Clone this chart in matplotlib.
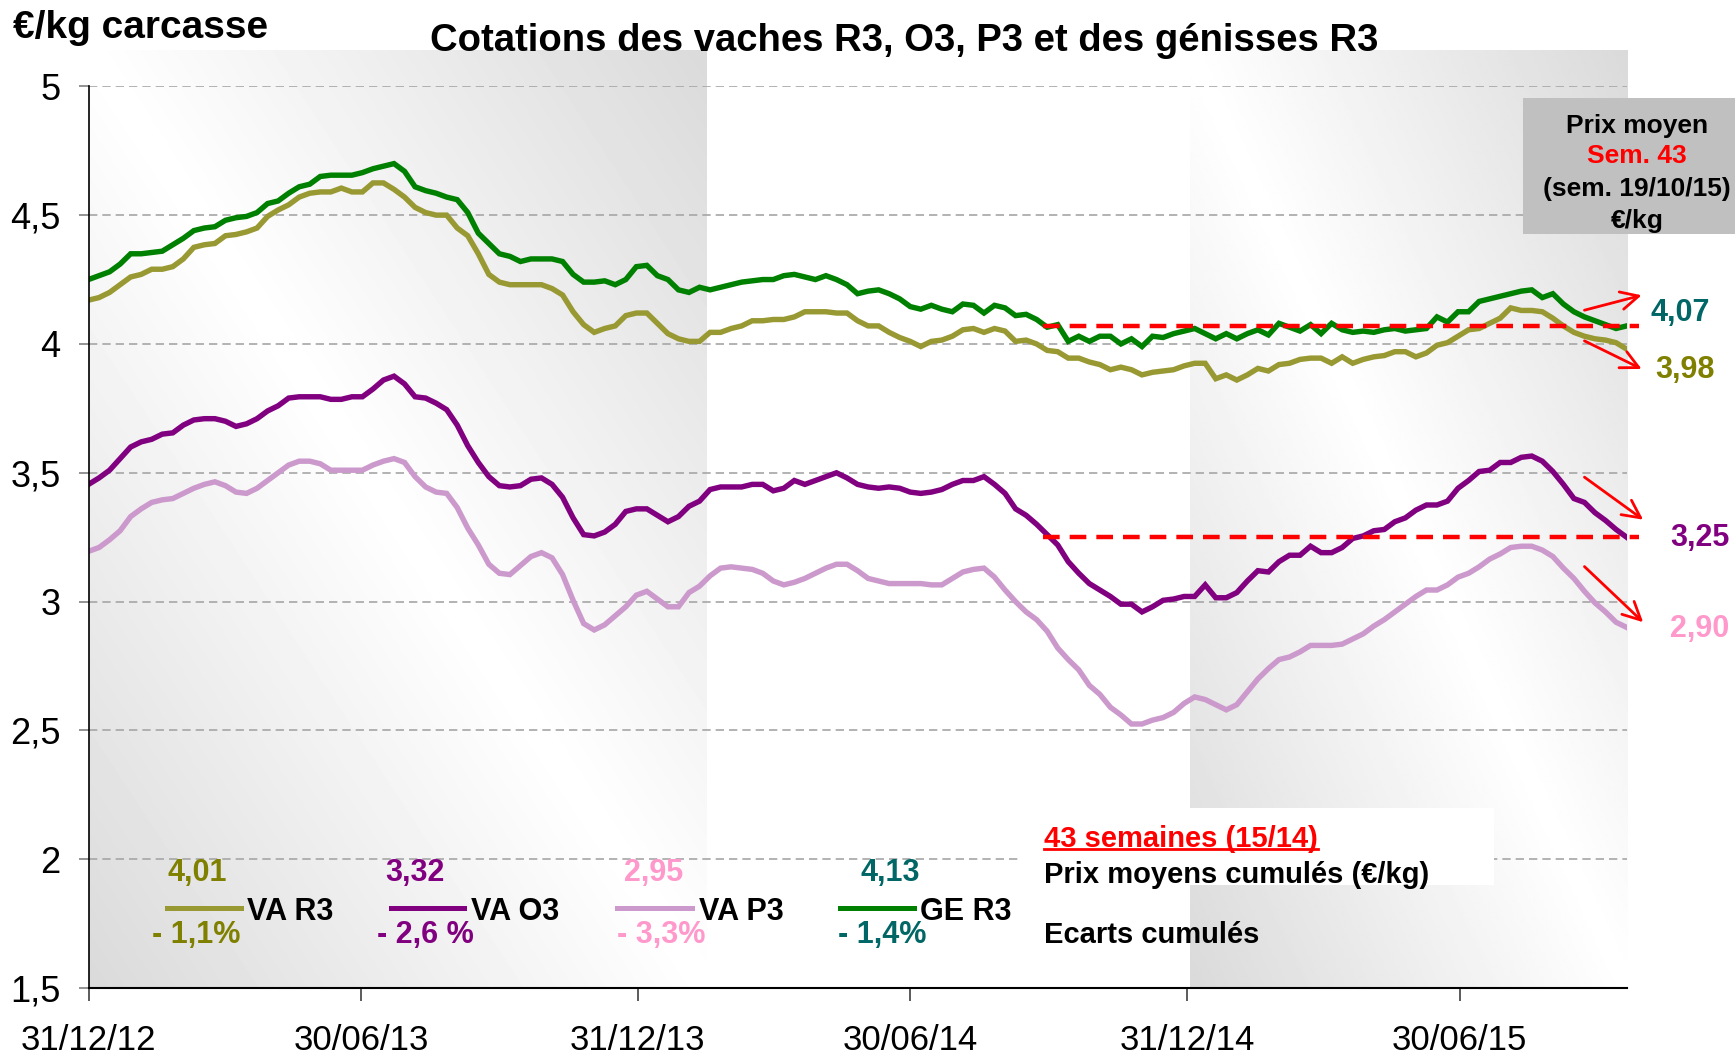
import numpy as np
import pandas as pd
import matplotlib
matplotlib.use('Agg')
import matplotlib.pyplot as plt
import matplotlib.dates as mdates
from matplotlib.patches import Rectangle
from matplotlib.lines import Line2D

plt.rcParams['font.family'] = ['Liberation Sans', 'DejaVu Sans']

# weekly quotations, week 1/2013 (31/12/12) to week 43/2015 (19/10/15)
dates = pd.date_range('2012-12-31', periods=147, freq='7D')

va_r3 = [4.17, 4.18, 4.20, 4.23, 4.26, 4.27, 4.29, 4.29, 4.30, 4.33,
         4.375, 4.385, 4.39, 4.42, 4.425, 4.435, 4.45, 4.495, 4.52, 4.54,
         4.57, 4.585, 4.59, 4.59, 4.605, 4.59, 4.59, 4.625, 4.625, 4.60,
         4.57, 4.53, 4.51, 4.50, 4.50, 4.45, 4.42, 4.35, 4.27, 4.24,
         4.23, 4.23, 4.23, 4.23, 4.215, 4.19, 4.125, 4.075, 4.045, 4.06,
         4.07, 4.11, 4.12, 4.12, 4.08, 4.04, 4.02, 4.01, 4.01, 4.045,
         4.045, 4.06, 4.07, 4.09, 4.09, 4.095, 4.095, 4.105, 4.125, 4.125,
         4.125, 4.12, 4.12, 4.09, 4.07, 4.07, 4.045, 4.025, 4.01, 3.99,
         4.01, 4.015, 4.03, 4.055, 4.06, 4.045, 4.06, 4.05, 4.01, 4.015,
         4.00, 3.975, 3.97, 3.945, 3.945, 3.93, 3.92, 3.90, 3.91, 3.90,
         3.88, 3.89, 3.895, 3.90, 3.915, 3.925, 3.925, 3.865, 3.88, 3.86,
         3.88, 3.905, 3.895, 3.92, 3.925, 3.94, 3.945, 3.945, 3.925, 3.95,
         3.925, 3.94, 3.95, 3.955, 3.97, 3.97, 3.95, 3.965, 3.995, 4.005,
         4.03, 4.055, 4.06, 4.08, 4.10, 4.14, 4.13, 4.13, 4.125, 4.10,
         4.07, 4.045, 4.03, 4.02, 4.015, 4.005, 3.98]

va_o3 = [3.455, 3.48, 3.51, 3.555, 3.60, 3.62, 3.63, 3.65, 3.655, 3.685,
         3.705, 3.71, 3.71, 3.70, 3.68, 3.69, 3.71, 3.74, 3.76, 3.79,
         3.795, 3.795, 3.795, 3.785, 3.785, 3.795, 3.795, 3.825, 3.86, 3.875,
         3.845, 3.795, 3.79, 3.77, 3.745, 3.685, 3.605, 3.54, 3.485, 3.45,
         3.445, 3.45, 3.475, 3.48, 3.455, 3.405, 3.325, 3.26, 3.255, 3.27,
         3.30, 3.35, 3.36, 3.36, 3.335, 3.31, 3.33, 3.37, 3.39, 3.435,
         3.445, 3.445, 3.445, 3.455, 3.455, 3.43, 3.44, 3.47, 3.455, 3.47,
         3.485, 3.50, 3.48, 3.455, 3.445, 3.44, 3.445, 3.44, 3.425, 3.42,
         3.425, 3.435, 3.455, 3.47, 3.47, 3.485, 3.455, 3.42, 3.36, 3.335,
         3.30, 3.26, 3.22, 3.155, 3.11, 3.07, 3.045, 3.02, 2.99, 2.99,
         2.96, 2.98, 3.005, 3.01, 3.02, 3.02, 3.065, 3.015, 3.015, 3.035,
         3.08, 3.12, 3.115, 3.155, 3.18, 3.18, 3.215, 3.19, 3.19, 3.21,
         3.245, 3.255, 3.275, 3.28, 3.31, 3.325, 3.355, 3.375, 3.375, 3.39,
         3.44, 3.47, 3.505, 3.51, 3.54, 3.54, 3.56, 3.565, 3.545, 3.505,
         3.455, 3.40, 3.385, 3.345, 3.315, 3.28, 3.25]

va_p3 = [3.195, 3.21, 3.24, 3.275, 3.33, 3.36, 3.385, 3.395, 3.40, 3.42,
         3.44, 3.455, 3.465, 3.45, 3.425, 3.42, 3.44, 3.47, 3.50, 3.53,
         3.545, 3.545, 3.535, 3.51, 3.51, 3.51, 3.51, 3.53, 3.545, 3.555,
         3.54, 3.485, 3.445, 3.425, 3.42, 3.365, 3.285, 3.22, 3.145, 3.11,
         3.105, 3.14, 3.175, 3.19, 3.17, 3.105, 3.005, 2.915, 2.89, 2.91,
         2.945, 2.98, 3.025, 3.04, 3.01, 2.98, 2.98, 3.035, 3.06, 3.10,
         3.13, 3.135, 3.13, 3.125, 3.11, 3.08, 3.065, 3.075, 3.09, 3.11,
         3.13, 3.145, 3.145, 3.12, 3.09, 3.08, 3.07, 3.07, 3.07, 3.07,
         3.065, 3.065, 3.09, 3.115, 3.125, 3.13, 3.095, 3.045, 3.00, 2.96,
         2.93, 2.885, 2.82, 2.775, 2.735, 2.675, 2.64, 2.59, 2.56, 2.525,
         2.525, 2.54, 2.55, 2.57, 2.605, 2.63, 2.62, 2.60, 2.58, 2.60,
         2.65, 2.70, 2.74, 2.775, 2.785, 2.805, 2.83, 2.83, 2.83, 2.835,
         2.855, 2.875, 2.905, 2.93, 2.96, 2.99, 3.02, 3.045, 3.045, 3.065,
         3.095, 3.11, 3.135, 3.165, 3.185, 3.21, 3.215, 3.215, 3.20, 3.175,
         3.13, 3.09, 3.04, 2.995, 2.96, 2.92, 2.90]

ge_r3 = [4.25, 4.265, 4.28, 4.31, 4.35, 4.35, 4.355, 4.36, 4.385, 4.41,
         4.44, 4.45, 4.455, 4.48, 4.49, 4.495, 4.51, 4.545, 4.555, 4.585,
         4.61, 4.62, 4.65, 4.655, 4.655, 4.655, 4.665, 4.68, 4.69, 4.70,
         4.67, 4.61, 4.595, 4.585, 4.57, 4.56, 4.51, 4.43, 4.39, 4.35,
         4.34, 4.32, 4.33, 4.33, 4.33, 4.32, 4.27, 4.24, 4.24, 4.245,
         4.23, 4.25, 4.30, 4.305, 4.265, 4.25, 4.21, 4.20, 4.22, 4.21,
         4.22, 4.23, 4.24, 4.245, 4.25, 4.25, 4.265, 4.27, 4.26, 4.25,
         4.265, 4.25, 4.23, 4.195, 4.205, 4.21, 4.195, 4.175, 4.145, 4.135,
         4.15, 4.135, 4.125, 4.155, 4.15, 4.12, 4.15, 4.14, 4.11, 4.115,
         4.095, 4.065, 4.075, 4.01, 4.03, 4.01, 4.03, 4.03, 4.00, 4.02,
         3.99, 4.03, 4.025, 4.04, 4.05, 4.06, 4.04, 4.02, 4.04, 4.02,
         4.04, 4.055, 4.035, 4.08, 4.065, 4.05, 4.075, 4.04, 4.08, 4.055,
         4.045, 4.05, 4.045, 4.055, 4.06, 4.05, 4.055, 4.06, 4.105, 4.085,
         4.125, 4.125, 4.165, 4.175, 4.185, 4.195, 4.205, 4.21, 4.18, 4.195,
         4.155, 4.125, 4.105, 4.09, 4.075, 4.06, 4.07]

series_names = ['VA R3', 'VA O3', 'VA P3', 'GE R3']
cumul_prices = ['4,01', '3,32', '2,95', '4,13']
cumul_gaps = ['- 1,1%', '- 2,6 %', '- 3,3%', '- 1,4%']
last_labels = ['3,98', '3,25', '2,90', '4,07']
xtick_dates = ['2012-12-31', '2013-06-30', '2013-12-31', '2014-06-30', '2014-12-31', '2015-06-30']
xtick_labels = ['31/12/12', '30/06/13', '31/12/13', '30/06/14', '31/12/14', '30/06/15']
yticks = [1.5, 2, 2.5, 3, 3.5, 4, 4.5, 5]

line_colors = ['#999933', '#800080', '#cc99cc', '#008000']
text_colors = ['#808000', '#800080', '#ff99cc', '#006666']

W, H = 1735, 1057


def fx(px):
    return px / W


def fy(py):
    return 1 - py / H


def day(n):
    return mdates.date2num(dates[0] + pd.Timedelta(days=n))


def diag_gradient(w=200, h=300, dark=0.855):
    X, Y = np.meshgrid(np.linspace(0, 1, w), np.linspace(0, 1, h))
    return 1 - (1 - dark) * np.abs(X - Y)


fig = plt.figure(figsize=(W / 100, H / 100), dpi=100)

# shaded background areas (years 2013 and 2015)
bg = fig.add_axes([0, 0, 1, 1], zorder=0)
for x0, x1 in [(88.5, 706), (1190, 1627)]:
    bg.imshow(diag_gradient(), extent=(x0, x1, 988, 50), cmap='gray', vmin=0, vmax=1,
              aspect='auto', interpolation='bilinear')
bg.set_xlim(0, W)
bg.set_ylim(H, 0)
bg.axis('off')

ax = fig.add_axes([fx(88.5), fy(988.1), (1626.6 - 88.5) / W, (988.1 - 86.3) / H], zorder=1)
ax.set_facecolor('none')

for vals, col in zip([va_r3, va_o3, va_p3, ge_r3], line_colors):
    ax.plot(dates, vals, color=col, lw=3.9, solid_joinstyle='miter')

ax.set_xlim(dates[0], dates[-1])
ax.set_ylim(1.5, 5)
ax.set_yticks(yticks)
ax.set_yticklabels([f'{v:g}'.replace('.', ',') for v in yticks], fontsize=26)
ax.set_xticks(pd.to_datetime(xtick_dates))
ax.set_xticklabels(xtick_labels, fontsize=25)
ax.tick_params(axis='y', direction='out', length=7, width=1.2, color='#808080', pad=13)
ax.tick_params(axis='x', direction='out', length=9, width=1.2, color='#404040', pad=17)
ax.yaxis.grid(True, color='#a6a6a6', ls=(0, (5, 3)), lw=1.2)
ax.set_axisbelow(True)
for side in ['top', 'right']:
    ax.spines[side].set_visible(False)
ax.spines['left'].set_linewidth(1.2)
ax.spines['bottom'].set_linewidth(1.5)

# reference lines at the last GE R3 and VA O3 prices
for ref in [ge_r3[-1], va_o3[-1]]:
    ax.plot([day(634), day(1030)], [ref, ref], color='red', lw=3.2,
            ls=(0, (3.75, 2.25)), clip_on=False)

arrows = [((994, 4.131), (1032, 4.189)), ((994, 4.012), (1032, 3.903)),
          ((994, 3.483), (1033, 3.318)), ((994, 3.136), (1033, 2.92))]
for (d0, v0), (d1, v1) in arrows:
    ax.annotate('', xy=(day(d1), v1), xytext=(day(d0), v0), annotation_clip=False,
                arrowprops=dict(arrowstyle='->', color='red', lw=2, mutation_scale=32,
                                shrinkA=0, shrinkB=0))

# last values on the right
for lab, col, (px, py) in zip(last_labels, text_colors,
                              [(1685, 370), (1700, 538), (1700, 629), (1680, 313)]):
    fig.text(fx(px), fy(py), lab, color=col, fontsize=22, fontweight='bold',
             ha='center', va='center', zorder=3)

# titles
fig.text(fx(13), fy(28), '€/kg carcasse', fontsize=28, fontweight='bold', ha='left', va='center')
fig.text(fx(904), fy(41), 'Cotations des vaches R3, O3, P3 et des génisses R3',
         fontsize=27.5, fontweight='bold', ha='center', va='center')

# grey box top right
fig.add_artist(Rectangle((fx(1523), fy(234)), (1735 - 1523) / W, (234 - 98) / H,
                         transform=fig.transFigure, facecolor='#c0c0c0', edgecolor='none', zorder=2))
for txt, col, py in [('Prix moyen', 'black', 126), ('Sem. 43', 'red', 156),
                     ('(sem. 19/10/15)', 'black', 189), ('€/kg', 'black', 221)]:
    fig.text(fx(1637), fy(py), txt, color=col, fontsize=19, fontweight='bold',
             ha='center', va='center', zorder=3)

# white box behind the cumulated block
fig.add_artist(Rectangle((fx(1020), fy(885)), (1494 - 1020) / W, (885 - 808) / H,
                         transform=fig.transFigure, facecolor='white', edgecolor='none', zorder=2))
t43 = fig.text(fx(1044), fy(839), '43 semaines (15/14)', color='red', fontsize=21,
               fontweight='bold', ha='left', va='center', zorder=3)
fig.text(fx(1044), fy(875), 'Prix moyens cumulés (€/kg)', fontsize=21, fontweight='bold',
         ha='left', va='center', zorder=3)
fig.text(fx(1044), fy(935), 'Ecarts cumulés', fontsize=21, fontweight='bold',
         ha='left', va='center', zorder=3)

# hand-made legend with cumulated prices and gaps
price_x = [197, 415, 654, 890]
sample_x = [(167, 241), (391, 464), (617, 692), (840, 914)]
name_x = [247, 471, 699, 920]
gap_x = [152, 377, 617, 838]
for i in range(4):
    fig.text(fx(price_x[i]), fy(873), cumul_prices[i], color=text_colors[i], fontsize=22,
             fontweight='bold', ha='center', va='center', zorder=3)
    fig.add_artist(Line2D([fx(sample_x[i][0]), fx(sample_x[i][1])], [fy(907.5), fy(907.5)],
                          transform=fig.transFigure, color=line_colors[i], lw=3.6, zorder=3))
    fig.text(fx(name_x[i]), fy(912), series_names[i], fontsize=22, fontweight='bold',
             ha='left', va='center', zorder=3)
    fig.text(fx(gap_x[i]), fy(935), cumul_gaps[i], color=text_colors[i], fontsize=22,
             fontweight='bold', ha='left', va='center', zorder=3)

# underline "43 semaines"
fig.canvas.draw()
bb = t43.get_window_extent()
uy = (bb.y0 + 4) / H
fig.add_artist(Line2D([bb.x0 / W, bb.x1 / W], [uy, uy], transform=fig.transFigure,
                      color='red', lw=2, zorder=3))

fig.savefig('out.png', dpi=100)
